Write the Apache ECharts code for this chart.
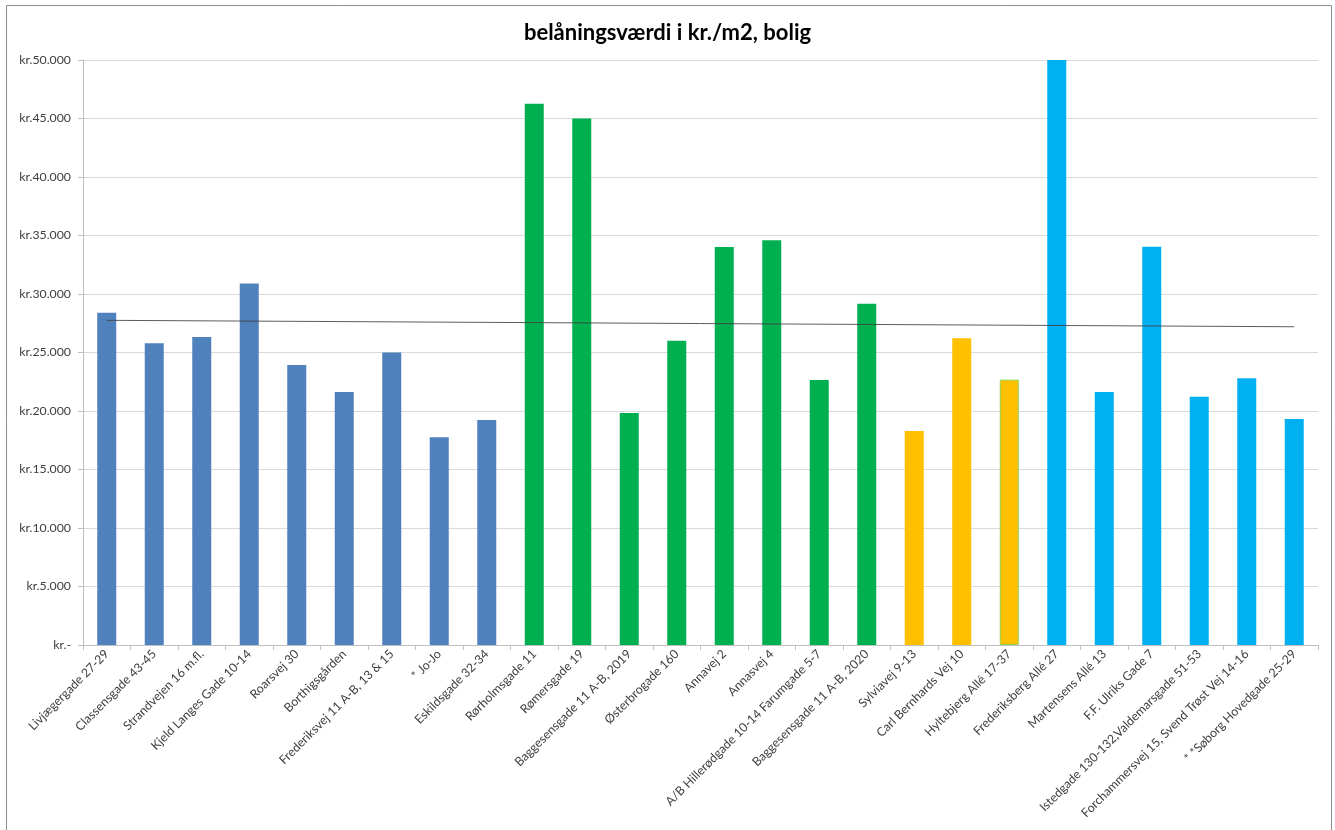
<!DOCTYPE html>
<html>
<head>
<meta charset="utf-8">
<title>belåningsværdi i kr./m2, bolig</title>
<script src="https://cdn.jsdelivr.net/npm/echarts@6/dist/echarts.min.js"></script>
<style>
  html, body { margin: 0; padding: 0; background: #ffffff; }
  #chart { width: 1335px; height: 830px; }
</style>
</head>
<body>
<div id="chart"></div>
<script>
// Properties (one bar each)
const categories = [
  'Livjægergade 27-29', 'Classensgade 43-45', 'Strandvejen 16 m.fl.', 'Kjeld Langes Gade 10-14',
  'Roarsvej 30', 'Borthigsgården', 'Frederiksvej 11 A-B, 13 & 15', '* Jo-Jo', 'Eskildsgade 32-34',
  'Rørholmsgade 11', 'Rømersgade 19', 'Baggesensgade 11 A-B, 2019', 'Østerbrogade 160',
  'Annavej 2', 'Annasvej 4', 'A/B Hillerødgade 10-14 Farumgade 5-7', 'Baggesensgade 11 A-B, 2020',
  'Sylviavej 9-13', 'Carl Bernhards Vej 10', 'Hyltebjerg Allé 17-37',
  'Frederiksberg Allé 27', 'Martensens Allé 13', 'F.F. Ulriks Gade 7',
  'Istedgade 130-132,Valdemarsgade 51-53', 'Forchammersvej 15, Svend Trøst Vej 14-16', '* *Søborg Hovedgade 25-29'
];

// Lending value, kr. per m2
const values = [
  28400, 25800, 26330, 30900, 23930, 21620, 25000, 17750, 19230,
  46270, 45000, 19830, 26010, 34020, 34590, 22650, 29170,
  18290, 26210, 22680,
  50000, 21620, 34040, 21220, 22790, 19320
];

// Colour group of each property
const groups = [
  0, 0, 0, 0, 0, 0, 0, 0, 0,
  1, 1, 1, 1, 1, 1, 1, 1,
  2, 2, 2,
  3, 3, 3, 3, 3, 3
];
const groupColors = ['#4F81BD', '#00B050', '#FFC000', '#00B0F0'];

// Linear trend line, value at first and last property
const trendEnds = [27750, 27200];

// Y axis
const yMin = 0, yMax = 50000, yStep = 5000;

const fontFamily = 'Lato, "Open Sans", "DejaVu Sans", sans-serif';

function krFormat(v) {
  if (v === 0) return 'kr.-';
  return 'kr.' + String(v).replace(/\B(?=(\d{3})+(?!\d))/g, '.');
}

const barData = values.map((v, i) => {
  const item = { value: v, itemStyle: { color: groupColors[groups[i]] } };
  if (categories[i] === 'Hyltebjerg Allé 17-37') {
    item.itemStyle.borderColor = '#92D050';
    item.itemStyle.borderWidth = 1;
  }
  return item;
});

const chart = echarts.init(document.getElementById('chart'), null, { renderer: 'canvas' });

chart.setOption({
  animation: false,
  backgroundColor: '#ffffff',
  textStyle: { fontFamily: fontFamily },
  title: {
    text: 'belåningsværdi i kr./m2, bolig',
    left: 'center',
    top: 17,
    textStyle: { fontFamily: fontFamily, fontSize: 22, fontWeight: 'bold', color: '#000000' }
  },
  graphic: [{
    type: 'rect',
    shape: { x: 6.5, y: 5.5, width: 1325, height: 840 },
    style: { fill: 'none', stroke: '#8c8c8c', lineWidth: 1 },
    silent: true
  }],
  grid: { left: 83, right: 17, top: 60, bottom: 185, containLabel: false },
  xAxis: {
    type: 'category',
    data: categories,
    boundaryGap: true,
    axisLine: { show: true, lineStyle: { color: '#bfbfbf', width: 1 } },
    axisTick: { show: true, alignWithLabel: false, length: 5, lineStyle: { color: '#bfbfbf' } },
    axisLabel: {
      interval: 0,
      rotate: 45,
      margin: 7,
      fontSize: 12.3,
      color: '#404040',
      fontFamily: fontFamily
    },
    splitLine: { show: false }
  },
  yAxis: {
    type: 'value',
    min: yMin,
    max: yMax,
    interval: yStep,
    axisLine: { show: true, lineStyle: { color: '#bfbfbf', width: 1 } },
    axisTick: { show: true, length: 5, lineStyle: { color: '#bfbfbf' } },
    axisLabel: {
      formatter: krFormat,
      margin: 12,
      fontSize: 12.3,
      color: '#404040',
      fontFamily: fontFamily
    },
    splitLine: { show: true, lineStyle: { color: '#d9d9d9', width: 1 } }
  },
  series: [
    {
      name: 'belåningsværdi',
      type: 'bar',
      data: barData,
      barWidth: 19,
      clip: true,
      z: 2
    },
    {
      name: 'Lineær tendens',
      type: 'line',
      data: [[categories[0], trendEnds[0]], [categories[categories.length - 1], trendEnds[1]]],
      symbol: 'none',
      lineStyle: { color: '#3f3f3f', width: 1, opacity: 0.85 },
      silent: true,
      z: 3
    }
  ]
});
</script>
</body>
</html>
